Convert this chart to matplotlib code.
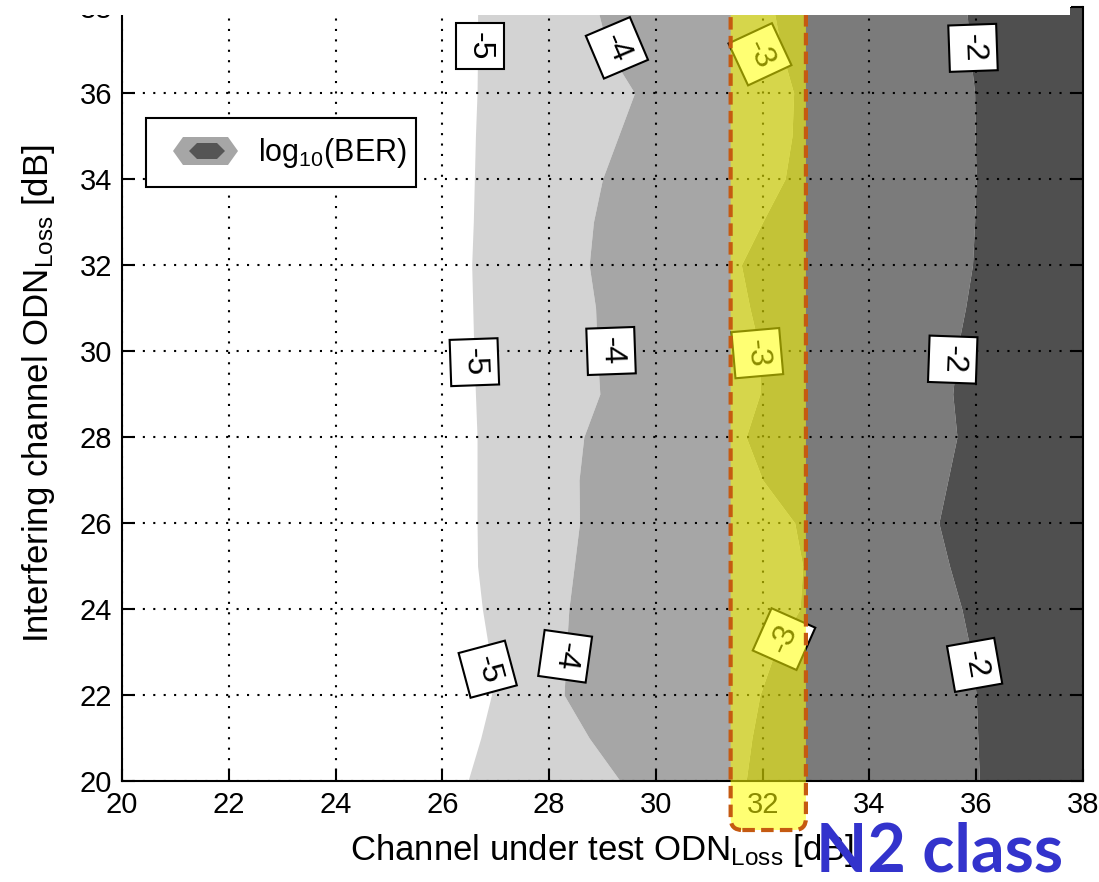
import matplotlib
matplotlib.use("Agg")
import matplotlib.pyplot as plt
from matplotlib.patches import Rectangle, Polygon, FancyBboxPatch

# interfering channel ODN loss [dB] at which the contour edges were read
y_pts = [20, 21, 22, 23, 24, 25, 26, 27, 28, 29, 30, 31, 32, 33, 34, 35, 36, 37, 38]

# channel-under-test ODN loss [dB] where log10(BER) crosses each level
edge_m5 = [26.48, 26.72, 26.92, 26.88, 26.75, 26.66, 26.65, 26.65, 26.65, 26.62,
           26.59, 26.57, 26.55, 26.58, 26.60, 26.62, 26.65, 26.66, 26.66]
edge_m4 = [29.33, 28.75, 28.28, 28.32, 28.37, 28.47, 28.57, 28.56, 28.65, 28.95,
           28.90, 28.87, 28.75, 28.83, 29.00, 29.30, 29.60, 29.10, 28.90]
edge_m3 = [31.69, 31.80, 31.95, 32.23, 32.70, 32.75, 32.60, 32.00, 31.69, 31.95,
           31.95, 31.76, 31.60, 32.00, 32.42, 32.55, 32.58, 32.35, 32.20]
edge_m2 = [36.06, 36.03, 36.00, 35.90, 35.73, 35.50, 35.30, 35.47, 35.64, 35.56,
           35.64, 35.80, 35.93, 35.97, 36.00, 35.98, 35.97, 35.88, 35.82]

# contour labels (clabel style)
lab_val = ["-5", "-4", "-3", "-2", "-5", "-4", "-3", "-2", "-5", "-4", "-3", "-2"]
lab_x = [26.70, 29.27, 31.95, 35.94, 26.60, 29.16, 31.90, 35.56, 26.85, 28.30, 32.40, 35.97]
lab_y = [37.10, 37.05, 36.90, 37.05, 29.74, 30.00, 29.95, 29.80, 22.60, 22.90, 23.30, 22.70]
lab_rot = [-90, -67, -65, -88, -88, -88, -85, -92, -75, -98, 66, -80]

# N2 class window on the channel under test loss axis
n2_lo, n2_hi = 31.4, 32.81

x_ticks = list(range(20, 39, 2))
y_ticks = list(range(20, 39, 2))

W, H = 1099, 882
plt.rcParams["font.family"] = ["Liberation Sans", "DejaVu Sans"]
plt.rcParams["mathtext.fontset"] = "custom"
plt.rcParams["mathtext.rm"] = "Liberation Sans"
plt.rcParams["mathtext.it"] = "Liberation Sans"

fig = plt.figure(figsize=(W / 100, H / 100), dpi=100)
ax = fig.add_axes([122 / W, 1 - 781 / H, 961 / W, 774 / H])

x_max = 38
shades = ["#d3d3d3", "#a6a6a6", "#7b7b7b", "#4f4f4f"]
ax.fill_betweenx(y_pts, edge_m5, edge_m4, color=shades[0], lw=0)
ax.fill_betweenx(y_pts, edge_m4, edge_m3, color=shades[1], lw=0)
ax.fill_betweenx(y_pts, edge_m3, edge_m2, color=shades[2], lw=0)
ax.fill_betweenx(y_pts, edge_m2, x_max, color=shades[3], lw=0)

for s, x, y, r in zip(lab_val, lab_x, lab_y, lab_rot):
    ax.text(x, y, s, fontsize=23, rotation=r, rotation_mode="anchor",
            ha="center", va="center", zorder=3,
            bbox=dict(boxstyle="square,pad=0.28", fc="white", ec="black", lw=1.5))

ax.set_xlim(20, 38)
ax.set_ylim(20, 38)
ax.set_xticks(x_ticks)
ax.set_yticks(y_ticks)
ax.grid(True, color="black", linestyle=(0, (1, 4)), linewidth=1.5)
ax.tick_params(direction="in", length=9, width=1.5, right=True, top=False,
               labelsize=21, pad=7)
for side in ["left", "bottom", "right"]:
    ax.spines[side].set_linewidth(1.5)
ax.spines["top"].set_visible(False)

ax.set_xlabel("Channel under test ODN$_{\\mathrm{Loss}}$ [dB]", fontsize=25)
ax.set_ylabel("Interfering channel ODN$_{\\mathrm{Loss}}$ [dB]", fontsize=25)
ax.xaxis.set_label_coords(0.5, -0.066)
ax.yaxis.set_label_coords(-0.068, 0.5)

# yellow N2 window, running below the axis
band = FancyBboxPatch((n2_lo, 18.86), n2_hi - n2_lo, 25,
                      boxstyle="round,pad=0,rounding_size=0.22",
                      mutation_aspect=53.4 / 43, fc=(1, 1, 0, 0.55),
                      ec="#c55a11", lw=3, linestyle=(0, (3, 1.5)),
                      clip_on=False, zorder=5)
ax.add_patch(band)

# legend box
def fp(px, py):
    return (px / W, 1 - py / H)

fig.patches.append(Rectangle(fp(146, 187), 270 / W, 69 / H, transform=fig.transFigure,
                             fc="white", ec="black", lw=1.5, zorder=6))
outer = [fp(173, 151), fp(183, 137), fp(228, 137), fp(238, 151), fp(228, 165), fp(183, 165)]
inner = [fp(189, 151), fp(197, 143), fp(217, 143), fp(225, 151), fp(217, 159), fp(197, 159)]
fig.patches.append(Polygon(outer, closed=True, transform=fig.transFigure,
                           fc="#a6a6a6", ec="none", zorder=7))
fig.patches.append(Polygon(inner, closed=True, transform=fig.transFigure,
                           fc="#555555", ec="none", zorder=8))
fig.text(*fp(258, 153), "log$_{10}$(BER)", fontsize=22, ha="left", va="center", zorder=9)

# the source picture is cut off at the top
fig.patches.append(Rectangle(fp(0, 15), 1070 / W, 15 / H, transform=fig.transFigure,
                             fc="white", ec="none", zorder=10))

fig.text(*fp(816, 871), "N2 class", fontsize=48, fontweight="bold",
         family=["Lato", "DejaVu Sans"], color="#3333cc", ha="left", va="baseline",
         zorder=11)

fig.savefig("out.png", dpi=100)
